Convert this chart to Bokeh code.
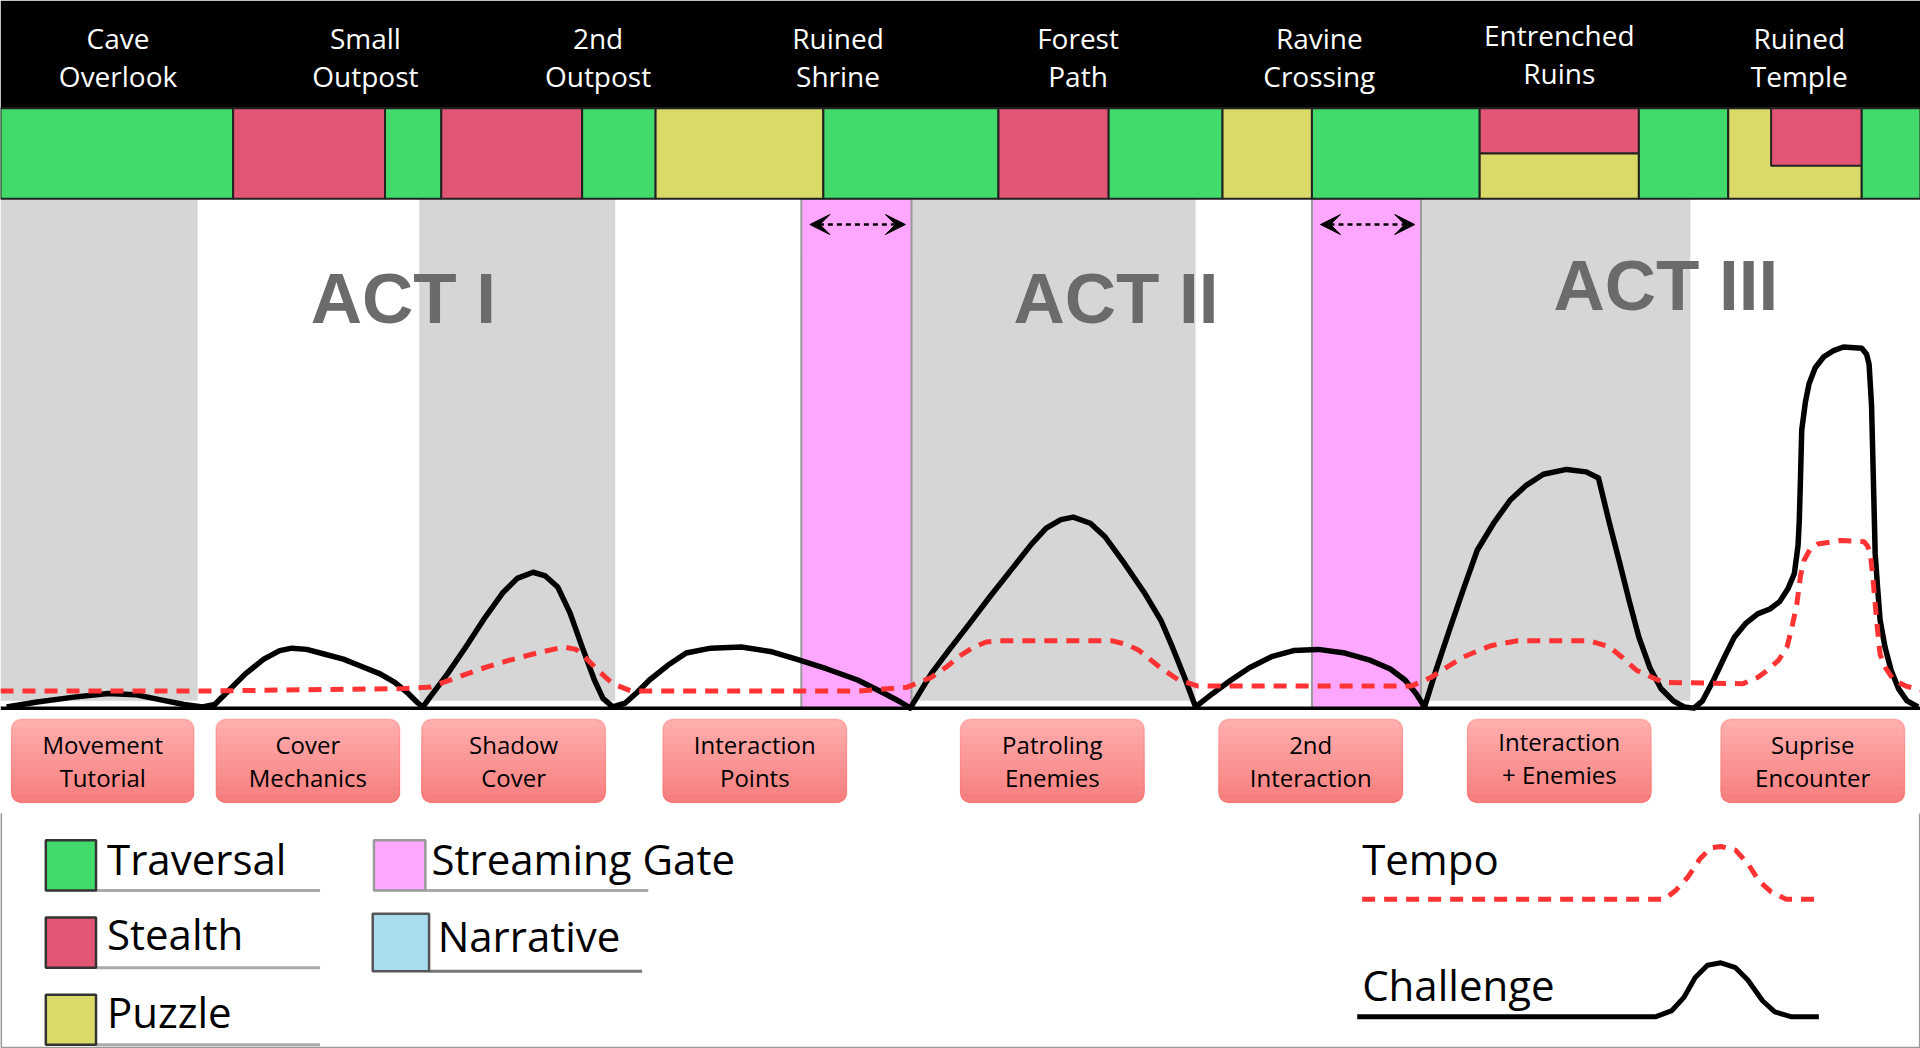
from bokeh.plotting import figure
from bokeh.models import Range1d, BoxAnnotation, Arrow, VeeHead
from bokeh.embed import file_html
from bokeh.resources import INLINE
from bokeh.core.properties import value

# ---------------- data (timeline units across, design units down) ----------------
area_line1 = ["Cave", "Small", "2nd", "Ruined", "Forest", "Ravine", "Entrenched", "Ruined"]
area_line2 = ["Overlook", "Outpost", "Outpost", "Shrine", "Path", "Crossing", "Ruins", "Temple"]
area_center = [96, 298, 488, 684, 880, 1077, 1273, 1469]
area_raise = [0, 0, 0, 0, 0, 0, 3, 0]

block_start = [0, 190, 314, 360, 475, 535, 672, 815, 905, 998, 1071, 1208, 1208, 1338, 1411, 1446, 1520]
block_end = [190, 314, 360, 475, 535, 672, 815, 905, 998, 1071, 1208, 1338, 1338, 1411, 1520, 1520, 1568]
block_type = ["Traversal", "Stealth", "Traversal", "Stealth", "Traversal", "Puzzle", "Traversal",
              "Stealth", "Traversal", "Puzzle", "Traversal", "Stealth", "Puzzle", "Traversal",
              "Puzzle", "Stealth", "Traversal"]
block_lane = ["full", "full", "full", "full", "full", "full", "full", "full", "full", "full", "full",
              "top", "bottom", "full", "full", "inset", "full"]

band_start = [0, 342, 744, 1160]
band_end = [161, 502, 976, 1380]
gate_start = [654, 1071]
gate_end = [744, 1160]

act_labels = ["ACT I", "ACT II", "ACT III"]
act_x = [329, 911, 1360]
act_y = [243, 243, 233]

mech_line1 = ["Movement", "Cover", "Shadow", "Interaction", "Patroling", "2nd", "Interaction", "Suprise"]
mech_line2 = ["Tutorial", "Mechanics", "Cover", "Points", "Enemies", "Interaction", "+ Enemies", "Encounter"]
mech_start = [9, 176, 344, 541, 784, 995, 1198, 1405]
mech_end = [158, 326, 494, 691, 934, 1145, 1348, 1555]
mech_raise = [0, 0, 0, 0, 0, 0, 3, 0]

# challenge curve: timeline position, height above the baseline
challenge_x = [5, 30, 60, 88, 110, 130, 150, 165,
               175, 188, 200, 215, 228, 238, 250, 265, 280, 295, 310, 322, 333, 340, 345,
               350, 365, 380, 395, 410, 422, 435, 445, 455, 465, 475, 485, 492, 500,
               510, 520, 530, 545, 560, 580, 605, 630, 650, 675, 700, 720, 735, 743,
               760, 775, 789, 808, 827, 842, 854, 866, 876, 890, 902, 918, 935, 948, 957, 967, 976,
               990, 1005, 1020, 1038, 1056, 1076, 1098, 1119, 1135, 1147, 1156, 1163,
               1172, 1184, 1195, 1206, 1220, 1233, 1246, 1260, 1279, 1295, 1305, 1314, 1322, 1330,
               1338, 1347, 1356, 1366, 1375, 1383,
               1390, 1399, 1408, 1416, 1425, 1435, 1445, 1453, 1460, 1465, 1468, 1469, 1470, 1471,
               1474, 1477, 1482, 1489, 1497, 1505, 1520, 1524, 1526, 1528, 1529, 1531, 1533, 1535,
               1539, 1544, 1550, 1557, 1566]
challenge_v = [1, 5, 9, 12, 11, 7, 3, 1,
               3, 16, 28, 40, 47, 49, 48, 44, 40, 34, 28, 21, 12, 5, 1,
               8, 28, 50, 73, 94, 106, 111, 108, 99, 78, 50, 23, 8, 1,
               4, 13, 23, 35, 45, 49, 50, 46, 40, 32, 23, 13, 5, 0,
               28, 48, 66, 91, 115, 134, 147, 154, 156, 151, 140, 118, 93, 71, 50, 25, 1,
               12, 23, 33, 42, 47, 48, 45, 39, 32, 23, 12, 1,
               30, 66, 98, 129, 152, 170, 182, 191, 195, 193, 188, 151, 120, 88,
               58, 33, 16, 6, 1, 0,
               6, 23, 42, 58, 69, 77, 81, 87, 98, 110, 133, 153, 188, 227,
               250, 265, 278, 287, 292, 295, 294, 289, 281, 248, 208, 126, 98, 72,
               50, 31, 16, 6, 1]

tempo_x = [0, 165, 250, 330, 350, 370, 392, 415, 438, 460, 470, 480, 490, 500, 515, 600, 700,
           740, 760, 773, 784, 795, 805, 816, 860, 908, 920, 930, 946, 962, 978, 1050, 1152,
           1168, 1182, 1195, 1217, 1239, 1270, 1298, 1314, 1325, 1336, 1358, 1423,
           1435, 1443, 1452, 1459, 1463, 1467, 1470, 1473, 1478, 1484, 1503, 1522, 1525, 1527,
           1529, 1531, 1533, 1535, 1540, 1546, 1556, 1568]
tempo_v = [14, 14, 15, 16, 17, 24, 32, 39, 45, 50, 48, 39, 29, 20, 14, 14, 14,
           17, 25, 34, 43, 50, 54, 55, 55, 55, 52, 47, 34, 23, 18, 18, 18,
           25, 34, 42, 51, 55, 55, 55, 50, 41, 31, 21, 20,
           25, 31, 39, 50, 66, 85, 108, 121, 130, 134, 137, 136, 132, 126,
           108, 85, 63, 44, 32, 23, 18, 15]

legend_box_names = ["Traversal", "Stealth", "Puzzle", "Streaming Gate", "Narrative"]

legend_tempo_x = [1112, 1359, 1368, 1378, 1388, 1397, 1405, 1417, 1427, 1436, 1446, 1458, 1485]
legend_tempo_v = [0, 0, 7, 18, 33, 42, 43, 40, 29, 15, 6, 0, 0]
legend_chal_x = [1108, 1352, 1365, 1375, 1384, 1394, 1405, 1417, 1427, 1439, 1449, 1462, 1485]
legend_chal_v = [0, 0, 5, 16, 32, 42, 44, 40, 30, 13, 4, 0, 0]

# ---------------- styles ----------------
TYPE_COLOR = {"Traversal": "#42da6a", "Stealth": "#e35574", "Puzzle": "#dada68",
              "Streaming Gate": "#ffa6ff", "Narrative": "#a8dcef"}
LANES = {"full": (88, 162), "top": (88, 125), "bottom": (125, 162), "inset": (88, 135)}
BASE = 578
FONT = value("Open Sans")

p = figure(width=1920, height=1048,
           x_range=Range1d(0, 1568),
           y_range=Range1d(856, 0),
           output_backend="svg", toolbar_location=None, min_border=0)
p.axis.visible = False
p.grid.visible = False
p.outline_line_color = None
p.background_fill_color = "white"
p.border_fill_color = "white"

# header
p.quad(left=[0], right=[1568], top=[0], bottom=[88], fill_color="black", line_color=None)
p.text(x=area_center, y=[31 - r for r in area_raise], text=area_line1, text_color="white",
       text_font=FONT, text_font_size="28px", text_align="center", text_baseline="middle")
p.text(x=area_center, y=[62 - r for r in area_raise], text=area_line2, text_color="white",
       text_font=FONT, text_font_size="28px", text_align="center", text_baseline="middle")

# main area bands
p.quad(left=band_start, right=band_end, top=[162] * len(band_start), bottom=[572] * len(band_start),
       fill_color="#d6d6d6", line_color=None)
p.quad(left=gate_start, right=gate_end, top=[162] * len(gate_start), bottom=[BASE] * len(gate_start),
       fill_color=TYPE_COLOR["Streaming Gate"], line_color="#9a9a9a", line_width=2)

# color band
p.quad(left=block_start, right=block_end,
       top=[LANES[l][0] for l in block_lane], bottom=[LANES[l][1] for l in block_lane],
       fill_color=[TYPE_COLOR[t] for t in block_type], line_color="#222222", line_width=2)

# act labels
p.text(x=act_x, y=act_y, text=act_labels, text_color="#6b6b6b",
       text_font=value("Liberation Sans"), text_font_style="bold", text_font_size="71px",
       text_align="center", text_baseline="middle")

# gate arrows
for gs, ge in zip(gate_start, gate_end):
    p.add_layout(Arrow(x_start=gs + 7, y_start=183, x_end=ge - 5, y_end=183,
                       line_color="black", line_width=2.5, line_dash="5 4",
                       start=VeeHead(size=20, fill_color="black", line_color="black", line_width=1),
                       end=VeeHead(size=20, fill_color="black", line_color="black", line_width=1)))

# curves
p.line(x=challenge_x, y=[BASE - v for v in challenge_v], line_color="black", line_width=5.5,
       line_join="round")
p.line(x=tempo_x, y=[BASE - v for v in tempo_v], line_color="#ff3333", line_width=5,
       line_dash="13 9")
p.segment(x0=[0], x1=[1568], y0=[BASE], y1=[BASE], line_color="black", line_width=3.5)

# mechanic boxes with vertical gradient
TOP_C = (255, 173, 173)
BOT_C = (246, 128, 128)
N = 10
for ms, me in zip(mech_start, mech_end):
    top, bot = 587, 655
    for k in range(N):
        f = k / (N - 1)
        c = "#%02x%02x%02x" % tuple(int(round(a + (b - a) * f)) for a, b in zip(TOP_C, BOT_C))
        rad = 10 if k == 0 else (0, 0, 10, 10)
        p.add_layout(BoxAnnotation(left=ms, right=me, top=top + (bot - top) * k / N, bottom=bot,
                                   fill_color=c, fill_alpha=1, line_color=None,
                                   border_radius=rad, level="underlay"))
    p.add_layout(BoxAnnotation(left=ms, right=me, top=top, bottom=bot, fill_color=None,
                               fill_alpha=0, line_color="#ff6459", line_width=1.5,
                               border_radius=10))
mech_c = [(a + b) / 2 for a, b in zip(mech_start, mech_end)]
p.text(x=mech_c, y=[608 - r for r in mech_raise], text=mech_line1, text_color="black",
       text_font=FONT, text_font_size="24px", text_align="center", text_baseline="middle")
p.text(x=mech_c, y=[635 - r for r in mech_raise], text=mech_line2, text_color="black",
       text_font=FONT, text_font_size="24px", text_align="center", text_baseline="middle")

# legend panel frame
p.segment(x0=[0.5, 0.5, 1567.5], x1=[0.5, 1567.5, 1567.5], y0=[664, 855.3, 664],
          y1=[855.3, 855.3, 855.3], line_color="#9a9a9a", line_width=2)

# legend: swatches
sw_left = [37, 37, 37, 305, 304]
sw_right = [78, 78, 78, 347, 350]
sw_top = [686, 749, 812, 686, 746]
sw_bot = [727, 790, 853, 727, 793]
sw_line = ["#333333", "#333333", "#333333", "#999999", "#555555"]
ul_end = [261, 261, 261, 529, 524]
ul_col = ["#aaaaaa", "#aaaaaa", "#aaaaaa", "#aaaaaa", "#777777"]
p.segment(x0=sw_right, x1=ul_end, y0=sw_bot, y1=sw_bot, line_color=ul_col, line_width=3)
p.quad(left=sw_left, right=sw_right, top=sw_top, bottom=sw_bot,
       fill_color=[TYPE_COLOR[n] for n in legend_box_names], line_color=sw_line, line_width=2.5)
p.text(x=[87, 87, 87, 352, 357], y=[701, 762, 826, 701, 764], text=legend_box_names,
       text_color="black", text_font=FONT, text_font_size="42px", text_align="left",
       text_baseline="middle")

# legend: lines
p.text(x=[1112, 1112], y=[701, 804], text=["Tempo", "Challenge"], text_color="black",
       text_font=FONT, text_font_size="42px", text_align="left", text_baseline="middle")
p.line(x=legend_tempo_x, y=[734 - v for v in legend_tempo_v], line_color="#ff3333",
       line_width=5, line_dash="13 9")
p.line(x=legend_chal_x, y=[830 - v for v in legend_chal_v], line_color="black", line_width=5)

open("out.html", "w").write(file_html(p, INLINE))
